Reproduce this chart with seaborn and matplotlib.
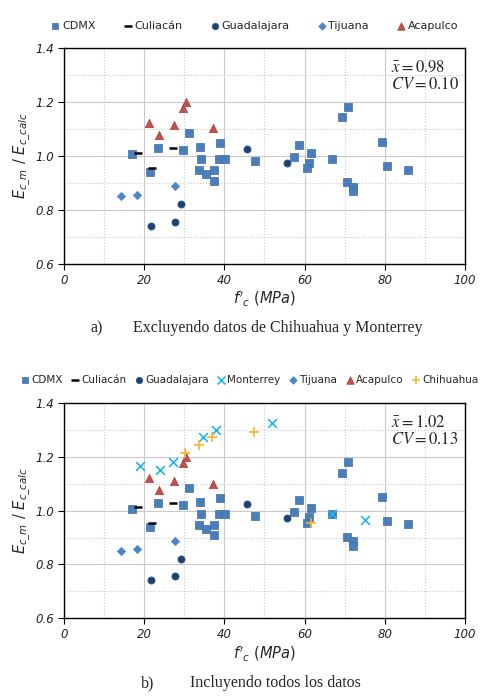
import numpy as np
import matplotlib
matplotlib.use("Agg")
import matplotlib.pyplot as plt
import seaborn as sns
from matplotlib.ticker import MultipleLocator

# Data (f'c in MPa, Ec_m / Ec_calc)
cdmx_fc = [16.9, 21.4, 23.5, 29.6, 31.1, 34.0, 34.2, 33.7, 35.4, 37.3, 37.3, 38.9, 38.7, 40.1,
           47.7, 57.4, 58.7, 61.6, 61.1, 60.7, 66.8, 69.3, 70.9, 70.7, 72.2, 72.0, 79.4, 80.5, 85.8]
cdmx_ratio = [1.005, 0.939, 1.030, 1.021, 1.085, 1.034, 0.988, 0.947, 0.931, 0.947, 0.908, 1.046, 0.988, 0.988,
              0.980, 0.994, 1.038, 1.009, 0.975, 0.953, 0.987, 1.142, 1.182, 0.902, 0.886, 0.868, 1.050, 0.962, 0.949]
culiacan_fc = [18.4, 21.9, 27.1]
culiacan_ratio = [1.012, 0.954, 1.028]
guadalajara_fc = [21.8, 27.8, 29.3, 45.6, 55.7]
guadalajara_ratio = [0.740, 0.756, 0.820, 1.025, 0.973]
monterrey_fc = [19.0, 23.9, 27.3, 34.7, 37.9, 51.8, 66.9, 75.2]
monterrey_ratio = [1.168, 1.153, 1.180, 1.275, 1.302, 1.327, 0.989, 0.965]
tijuana_fc = [14.3, 18.3, 27.8]
tijuana_ratio = [0.850, 0.856, 0.887]
acapulco_fc = [21.3, 23.8, 27.5, 29.8, 30.4, 37.2]
acapulco_ratio = [1.122, 1.078, 1.112, 1.178, 1.200, 1.101]
chihuahua_fc = [30.2, 33.7, 37.0, 47.4, 61.5]
chihuahua_ratio = [1.214, 1.246, 1.273, 1.294, 0.953]

stats_a = ("0.98", "0.10")
stats_b = ("1.02", "0.13")

sns.set_style("white")
plt.rcParams['font.family'] = ['DejaVu Sans']

# name, x, y, marker, face, edge, size, lw
series = {
    "CDMX": (cdmx_fc, cdmx_ratio, "s", "#4A7EBB", "#3F6FA8", 30, 0.5),
    "Culiacán": (culiacan_fc, culiacan_ratio, "_", "black", "black", 40, 1.8),
    "Guadalajara": (guadalajara_fc, guadalajara_ratio, "o", "#1F3F6E", "#2E5A94", 26, 0.6),
    "Monterrey": (monterrey_fc, monterrey_ratio, "x", "#1EB4F0", "#1EB4F0", 40, 1.2),
    "Tijuana": (tijuana_fc, tijuana_ratio, "D", "#4A86C8", "#4A86C8", 18, 0.5),
    "Acapulco": (acapulco_fc, acapulco_ratio, "^", "#C0504D", "#A5403D", 36, 0.5),
    "Chihuahua": (chihuahua_fc, chihuahua_ratio, "+", "#F5B62E", "#F5B62E", 50, 1.2),
}

fig = plt.figure(figsize=(4.98, 7.0), dpi=100)
ax_a = fig.add_axes([0.1285, 0.623, 0.805, 0.309])
ax_b = fig.add_axes([0.1285, 0.117, 0.805, 0.307])


def draw(ax, names, stats):
    for name in names:
        x, y, m, fc, ec, s, lw = series[name]
        if m in ("_", "x", "+"):
            sns.scatterplot(x=x, y=y, ax=ax, marker=m, color=fc, s=s, linewidth=lw, label=name)
        else:
            sns.scatterplot(x=x, y=y, ax=ax, marker=m, color=fc, edgecolor=ec, s=s,
                            linewidth=lw, label=name)
    ax.set_xlim(0, 100)
    ax.set_ylim(0.6, 1.4)
    ax.xaxis.set_major_locator(MultipleLocator(20))
    ax.xaxis.set_minor_locator(MultipleLocator(10))
    ax.yaxis.set_major_locator(MultipleLocator(0.2))
    ax.yaxis.set_minor_locator(MultipleLocator(0.1))
    ax.set_yticks(np.arange(0.6, 1.41, 0.2))
    ax.set_yticklabels([f"{v:.1f}" for v in np.arange(0.6, 1.41, 0.2)])
    ax.grid(which="major", color="#C9C9C9", lw=0.8, ls="-")
    ax.grid(which="minor", color="#C9C9C9", lw=0.8, ls=":")
    ax.set_axisbelow(True)
    ax.tick_params(which="major", direction="out", length=4, width=0.8, color="black",
                   labelsize=8.5, left=True, bottom=True, pad=3)
    ax.tick_params(which="minor", length=0)
    for lab in ax.get_xticklabels() + ax.get_yticklabels():
        lab.set_fontstyle("italic")
        lab.set_color("#222222")
    for side in ["left", "bottom", "right", "top"]:
        ax.spines[side].set_visible(True)
        ax.spines[side].set_color("black")
        ax.spines[side].set_linewidth(1.0)
    ax.set_xlabel(r"$f'_c\ (MPa)$", fontsize=10.5, labelpad=2, math_fontfamily="dejavusans")
    ax.set_ylabel(r"$E_{c\_m}\ /\ E_{c\_calc}$", fontsize=10.5, labelpad=2,
                  math_fontfamily="dejavusans")
    ax.text(0.815, 0.955, r"$\bar{x} = " + stats[0] + "$", transform=ax.transAxes,
            fontsize=12, va="top", math_fontfamily="stix")
    ax.text(0.815, 0.875, r"$CV = " + stats[1] + "$", transform=ax.transAxes,
            fontsize=12, va="top", math_fontfamily="stix")
    h, l = ax.get_legend_handles_labels()
    ax.get_legend().remove()
    return h, l


h_a, l_a = draw(ax_a, ["CDMX", "Culiacán", "Guadalajara", "Tijuana", "Acapulco"], stats_a)
h_b, l_b = draw(ax_b, ["CDMX", "Culiacán", "Guadalajara", "Monterrey", "Tijuana", "Acapulco", "Chihuahua"],
                stats_b)

fig.legend(h_a, l_a, loc="center", bbox_to_anchor=(0.51, 1 - 26 / 700), ncol=5, frameon=False,
           fontsize=8, handletextpad=0.1, columnspacing=2.4, markerscale=0.9, handlelength=1.0)
fig.legend(h_b, l_b, loc="center", bbox_to_anchor=(0.5, 1 - 380 / 700), ncol=7, frameon=False,
           fontsize=7.5, handletextpad=0.1, columnspacing=0.7, markerscale=0.9, handlelength=1.0)

serif = ['Liberation Serif', 'DejaVu Serif']
fig.text(90 / 498, 1 - 328 / 700, "a)", family=serif, fontsize=11.5, va="center")
fig.text(133 / 498, 1 - 328 / 700, "Excluyendo datos de Chihuahua y Monterrey", family=serif,
         fontsize=11.5, va="center")
fig.text(141 / 498, 1 - 683 / 700, "b)", family=serif, fontsize=11.5, va="center")
fig.text(190 / 498, 1 - 683 / 700, "Incluyendo todos los datos", family=serif,
         fontsize=11.5, va="center")

fig.savefig("out.png", dpi=100)
